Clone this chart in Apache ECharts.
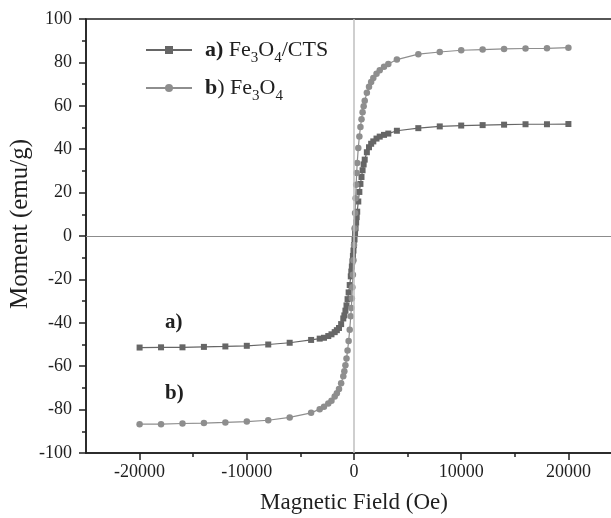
<!DOCTYPE html>
<html>
<head>
<meta charset="utf-8">
<script src="https://cdn.jsdelivr.net/npm/echarts@6/dist/echarts.min.js"></script>
<style>
  html, body { margin: 0; padding: 0; background: #fff; }
  #chart { width: 611px; height: 518px; }
</style>
</head>
<body>
<div id="chart"></div>
<script>
// Applied field (Oe), shared by both sweeps
const field = [-20000, -18000, -16000, -14000, -12000, -10000, -8000, -6000, -4000,
  -3200, -2800, -2400, -2100, -1800, -1600, -1400, -1200, -1000, -900, -800, -700,
  -600, -500, -400, -300, -250, -200, -150, -100, -50, 0, 50, 100, 150, 200, 250, 300,
  400, 500, 600, 700, 800, 900, 1000, 1200, 1400, 1600, 1800, 2100, 2400, 2800, 3200,
  4000, 6000, 8000, 10000, 12000, 14000, 16000, 18000, 20000];

// a) Fe3O4/CTS magnetisation (emu/g)
const momentCTS = [-51.4, -51.3, -51.3, -51.1, -50.9, -50.6, -50.0, -49.2, -47.9,
  -47.3, -46.9, -46.1, -45.3, -44.3, -43.4, -42.4, -40.6, -38.0, -36.6, -34.4, -32.0,
  -29.1, -26.0, -22.6, -18.6, -16.4, -14.1, -11.7, -9.2, -6.7, -4.2, -1.6, 1.0, 3.6, 6.2, 8.7, 11.2,
  15.9, 20.3, 24.0, 27.2, 30.3, 33.0, 35.2, 38.6, 40.9, 42.5, 43.6, 44.9, 45.8, 46.6, 47.2,
  48.5, 49.7, 50.5, 50.9, 51.1, 51.3, 51.5, 51.5, 51.6];

// b) bare Fe3O4 magnetisation (emu/g)
const momentFe = [-86.7, -86.7, -86.4, -86.2, -85.9, -85.5, -84.9, -83.6, -81.5,
  -79.8, -78.7, -77.2, -75.9, -74.0, -72.5, -70.5, -67.8, -64.6, -62.3, -59.6, -56.5,
  -52.8, -48.4, -43.2, -37.0, -33.2, -28.8, -23.6, -17.8, -11.2, -4.2, 3.4, 10.6, 17.4, 23.6, 29.0, 33.6,
  40.6, 45.8, 50.2, 53.8, 57.0, 59.8, 62.3, 66.0, 68.8, 71.0, 72.8, 74.8, 76.4, 78.0, 79.3,
  81.3, 83.8, 84.8, 85.6, 85.9, 86.2, 86.4, 86.5, 86.8];

const xMajorTicks = [-20000, -10000, 0, 10000, 20000];
const xMinorTicks = [-15000, -5000, 5000, 15000];

const SERIF = '"Liberation Serif", "Times New Roman", serif';
const INK = '#1f1f1f';

const pairs = (ys) => field.map((x, i) => [x, ys[i]]);

const chart = echarts.init(document.getElementById('chart'), null, { renderer: 'canvas' });

const frameLine = { show: true, onZero: false, lineStyle: { color: INK, width: 1.5 } };

chart.setOption({
  animation: false,
  backgroundColor: '#ffffff',
  grid: {
    left: 86, right: -11, top: 19, bottom: 65,
    outerBoundsMode: 'none', containLabel: false,
    show: true, borderColor: INK, borderWidth: 1.5, backgroundColor: 'transparent'
  },
  legend: {
    orient: 'vertical',
    left: 140, top: 33,
    itemWidth: 46, itemHeight: 10, itemGap: 10,
    textStyle: {
      fontFamily: SERIF, fontSize: 22, color: INK, padding: [0, 0, 0, 8],
      rich: {
        bold: { fontFamily: SERIF, fontSize: 22, fontWeight: 'bold', color: INK, lineHeight: 24 },
        t: { fontFamily: SERIF, fontSize: 22, color: INK, lineHeight: 24 },
        s: { fontFamily: SERIF, fontSize: 15, color: INK, lineHeight: 12, padding: [13, 0, 0, 0], verticalAlign: 'top' }
      }
    },
    formatter: (name) => name === 'Fe3O4/CTS'
      ? '{bold|a)} {t|Fe}{s|3}{t|O}{s|4}{t|/CTS}'
      : '{bold|b}{t|) Fe}{s|3}{t|O}{s|4}',
    data: ['Fe3O4/CTS', 'Fe3O4']
  },
  xAxis: [
    {
      type: 'value', min: -25000, max: 25000,
      name: 'Magnetic Field (Oe)', nameLocation: 'middle', nameGap: 38,
      nameTextStyle: { fontFamily: SERIF, fontSize: 23, color: INK },
      axisLine: frameLine,
      axisTick: { show: true, inside: false, length: 7, lineStyle: { color: INK, width: 1.5 }, customValues: xMajorTicks },
      axisLabel: {
        show: true, customValues: xMajorTicks, formatter: (v) => String(v),
        fontFamily: SERIF, fontSize: 18, color: INK, margin: 10
      },
      splitLine: { show: false }
    },
    {
      type: 'value', min: -25000, max: 25000, position: 'bottom',
      axisLine: { show: false, onZero: false },
      axisTick: { show: true, inside: false, length: 4, lineStyle: { color: INK, width: 1.5 }, customValues: xMinorTicks },
      axisLabel: { show: false },
      splitLine: { show: false }
    }
  ],
  yAxis: {
    type: 'value', min: -100, max: 100, interval: 20,
    name: 'Moment (emu/g)', nameLocation: 'middle', nameGap: 53, nameMoveOverlap: false,
    nameTextStyle: { fontFamily: SERIF, fontSize: 25, color: INK, padding: [0, 0, 0, 24] },
    axisLine: frameLine,
    axisTick: { show: true, inside: false, length: 7, lineStyle: { color: INK, width: 1.5 } },
    minorTick: { show: true, splitNumber: 2, length: 4, lineStyle: { color: INK, width: 1.5 } },
    axisLabel: { fontFamily: SERIF, fontSize: 18, color: INK, margin: 14 },
    splitLine: { show: false }
  },
  series: [
    {
      // zero reference lines behind the loops
      type: 'line', data: [], silent: true, z: 1,
      markLine: {
        silent: true, symbol: ['none', 'none'], label: { show: false },
        data: [
          { yAxis: 0, lineStyle: { color: '#8c8c8c', width: 1, type: 'solid' } },
          { xAxis: 0, lineStyle: { color: '#bfbfbf', width: 1.5, type: 'solid' } }
        ]
      }
    },
    {
      name: 'Fe3O4/CTS', type: 'line', z: 3,
      data: pairs(momentCTS),
      symbol: 'rect', symbolSize: 6, showAllSymbol: true,
      lineStyle: { color: '#666666', width: 1.2 },
      itemStyle: { color: '#666666' }
    },
    {
      name: 'Fe3O4', type: 'line', z: 4,
      data: pairs(momentFe),
      symbol: 'circle', symbolSize: 6.5, showAllSymbol: true,
      lineStyle: { color: '#8e8e8e', width: 1.2 },
      itemStyle: { color: '#8e8e8e' }
    }
  ],
  graphic: [
    { type: 'text', left: 165, top: 312, style: { text: 'a)', font: 'bold 21px ' + SERIF, fill: INK } },
    { type: 'text', left: 165, top: 383, style: { text: 'b)', font: 'bold 21px ' + SERIF, fill: INK } }
  ]
});
</script>
</body>
</html>
